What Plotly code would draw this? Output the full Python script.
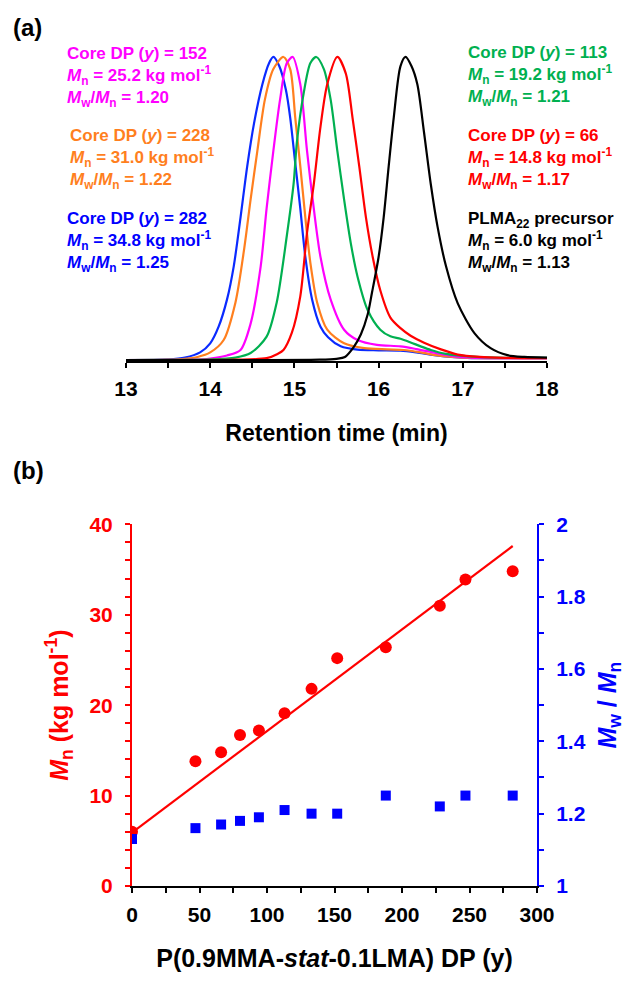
import plotly.graph_objects as go

FONT = "Liberation Sans, Arial, sans-serif"
W, H = 625, 981

# (a) GPC traces: retention time (min) and normalised RI signal
RT_BLUE = [13.0, 13.5, 13.7, 13.88, 14.0, 14.1, 14.2, 14.28, 14.36, 14.44, 14.52, 14.62, 14.7, 14.75,
           14.82, 14.9, 14.95, 15.01, 15.07, 15.13, 15.21, 15.31, 15.4, 15.55, 15.75, 16.0, 16.26,
           16.45, 16.66, 16.9, 17.1, 17.5, 18.0]
SIG_BLUE = [0.0, 0.002, 0.008, 0.025, 0.055, 0.11, 0.2, 0.31, 0.47, 0.64, 0.78, 0.91, 0.98, 1.0,
            0.97, 0.89, 0.8, 0.65, 0.5, 0.34, 0.2, 0.11, 0.075, 0.045, 0.034, 0.032, 0.031,
            0.025, 0.016, 0.009, 0.006, 0.006, 0.006]

RT_ORANGE = [13.0, 13.5, 13.7, 13.85, 14.0, 14.16, 14.3, 14.4, 14.48, 14.56, 14.65, 14.75, 14.87,
             14.95, 15.01, 15.07, 15.13, 15.19, 15.27, 15.39, 15.59, 15.83, 16.1, 16.3, 16.5,
             16.7, 17.0, 17.5, 18.0]
SIG_ORANGE = [0.0, 0.001, 0.004, 0.01, 0.025, 0.066, 0.19, 0.36, 0.53, 0.69, 0.86, 0.96, 1.0,
              0.96, 0.8, 0.64, 0.47, 0.32, 0.19, 0.1, 0.055, 0.039, 0.035, 0.033, 0.025,
              0.015, 0.008, 0.006, 0.006]

RT_MAGENTA = [13.0, 13.8, 14.0, 14.2, 14.36, 14.48, 14.6, 14.67, 14.75, 14.83, 14.91, 14.98, 15.07,
              15.15, 15.23, 15.31, 15.43, 15.59, 15.75, 15.98, 16.26, 16.45, 16.66, 16.9, 17.1,
              17.5, 18.0]
SIG_MAGENTA = [0.0, 0.001, 0.005, 0.015, 0.033, 0.12, 0.31, 0.5, 0.69, 0.86, 0.98, 1.0, 0.91,
               0.69, 0.5, 0.34, 0.2, 0.1, 0.066, 0.05, 0.045, 0.036, 0.024, 0.012, 0.008,
               0.006, 0.006]

RT_GREEN = [13.0, 14.0, 14.3, 14.48, 14.67, 14.79, 14.91, 14.99, 15.03, 15.11, 15.19, 15.26, 15.35,
            15.43, 15.51, 15.59, 15.67, 15.75, 15.87, 16.02, 16.14, 16.26, 16.38, 16.5, 16.62,
            16.8, 17.06, 17.4, 18.0]
SIG_GREEN = [0.0, 0.002, 0.008, 0.023, 0.077, 0.19, 0.41, 0.58, 0.72, 0.88, 0.98, 1.0, 0.96,
             0.86, 0.69, 0.53, 0.385, 0.275, 0.165, 0.1, 0.078, 0.07, 0.058, 0.045, 0.033,
             0.02, 0.012, 0.008, 0.007]

RT_RED = [13.0, 14.3, 14.67, 14.8, 14.87, 14.97, 15.07, 15.15, 15.23, 15.31, 15.39, 15.51, 15.61,
          15.69, 15.77, 15.85, 15.93, 16.02, 16.14, 16.26, 16.38, 16.54, 16.74, 16.94, 17.2,
          17.5, 18.0]
SIG_RED = [0.0, 0.001, 0.006, 0.02, 0.033, 0.09, 0.21, 0.42, 0.58, 0.77, 0.91, 1.0, 0.946,
           0.8, 0.64, 0.47, 0.34, 0.23, 0.14, 0.105, 0.08, 0.057, 0.035, 0.018, 0.01,
           0.007, 0.006]

RT_BLACK = [13.0, 15.3, 15.5, 15.6, 15.71, 15.79, 15.87, 15.92, 16.0, 16.06, 16.12, 16.18, 16.26,
            16.32, 16.39, 16.46, 16.54, 16.62, 16.7, 16.8, 16.94, 17.14, 17.33, 17.53, 17.73, 18.0]
SIG_BLACK = [0.0, 0.001, 0.004, 0.01, 0.045, 0.085, 0.15, 0.22, 0.34, 0.47, 0.64, 0.8, 0.97,
             1.0, 0.97, 0.91, 0.75, 0.58, 0.44, 0.31, 0.187, 0.088, 0.039, 0.016, 0.01, 0.008]

# (b) DP dependence of Mn and dispersity
DP = [0, 47, 66, 80, 94, 113, 133, 152, 188, 228, 247, 282]
MN = [6.0, 13.8, 14.8, 16.7, 17.2, 19.1, 21.8, 25.2, 26.4, 31.0, 33.9, 34.8]
DISPERSITY = [1.13, 1.16, 1.17, 1.18, 1.19, 1.21, 1.20, 1.20, 1.25, 1.22, 1.25, 1.25]
FIT_DP = [0, 282]
FIT_MN = [5.9, 37.6]

# labels for the GPC traces
LABELS = [
    ("Core DP (<i>y</i>) = 152", "25.2", "1.20"),
    ("Core DP (<i>y</i>) = 228", "31.0", "1.22"),
    ("Core DP (<i>y</i>) = 282", "34.8", "1.25"),
    ("Core DP (<i>y</i>) = 113", "19.2", "1.21"),
    ("Core DP (<i>y</i>) = 66", "14.8", "1.17"),
    ("PLMA<sub>22</sub> precursor", "6.0", "1.13"),
]

C_BLUE = "#0a2aff"
C_ORANGE = "#ff7f1e"
C_MAGENTA = "#ff00ff"
C_GREEN = "#00b050"
C_RED = "#ff0000"
C_BLACK = "#000000"


def px_x(x):
    """Pixel position in the picture to paper fraction."""
    return x / W


def px_y(y):
    return 1 - y / H


fig = go.Figure()

traces = [
    (RT_BLUE, SIG_BLUE, C_BLUE),
    (RT_ORANGE, SIG_ORANGE, C_ORANGE),
    (RT_MAGENTA, SIG_MAGENTA, C_MAGENTA),
    (RT_GREEN, SIG_GREEN, C_GREEN),
    (RT_RED, SIG_RED, C_RED),
    (RT_BLACK, SIG_BLACK, C_BLACK),
]
for rt, sig, color in traces:
    fig.add_trace(go.Scatter(x=rt, y=sig, mode="lines",
        line=dict(color=color, width=2.2, shape="spline", smoothing=0.8),
        xaxis="x", yaxis="y", hoverinfo="skip"))

fig.add_trace(go.Scatter(x=FIT_DP, y=FIT_MN, mode="lines",
    line=dict(color=C_RED, width=2.2), xaxis="x2", yaxis="y2"))
fig.add_trace(go.Scatter(x=DP, y=MN, mode="markers",
    marker=dict(color=C_RED, size=12, symbol="circle"), xaxis="x2", yaxis="y2"))
fig.add_trace(go.Scatter(x=DP, y=DISPERSITY, mode="markers",
    marker=dict(color="#0000ff", size=10, symbol="square"), xaxis="x2", yaxis="y3"))

# label blocks: (colour, x px, y px of middle line)
label_pos = [
    (C_MAGENTA, 65, 77),
    (C_ORANGE, 68, 159),
    ("#0000ff", 65, 242),
    (C_GREEN, 466, 76),
    (C_RED, 466, 159),
    (C_BLACK, 466, 242),
]
for (head, mn, disp), (color, x, y) in zip(LABELS, label_pos):
    text = (f"{head}<br><i>M</i><sub>n</sub> = {mn} kg mol<sup>-1</sup>"
            f"<br><i>M</i><sub>w</sub>/<i>M</i><sub>n</sub> = {disp}")
    fig.add_annotation(xref="paper", yref="paper", x=px_x(x), y=px_y(y),
        xanchor="left", yanchor="middle", align="left", text=text, showarrow=False,
        font=dict(size=17, color=color, family=FONT, weight="bold"))

for label, y in [("(a)", 27), ("(b)", 470)]:
    fig.add_annotation(xref="paper", yref="paper", x=px_x(11), y=px_y(y),
        xanchor="left", yanchor="middle", text=label, showarrow=False,
        font=dict(size=24, color="black", family=FONT, weight="bold"))

tick_font = dict(size=21, family=FONT, weight="bold")


def title_font(color, size):
    return dict(size=size, color=color, family=FONT, weight="bold")


def minor(dtick, color):
    return dict(dtick=dtick, ticks="outside", ticklen=5, tickwidth=2, tickcolor=color)


common = dict(showline=True, linewidth=2, showgrid=False, zeroline=False, automargin=False,
              ticks="outside", ticklen=5, tickwidth=2)

fig.update_layout(
    width=W, height=H,
    margin=dict(l=0, r=0, t=0, b=0, autoexpand=False),
    plot_bgcolor="white", paper_bgcolor="white",
    showlegend=False,
    font=dict(family=FONT, color="black"),
    xaxis=dict(domain=[px_x(126), px_x(547)], range=[13, 18], anchor="y",
               linecolor="black", tickcolor="black", dtick=1, tick0=13, ticklabelstandoff=3,
               minor=minor(0.5, "black"), tickfont=dict(color="black", **tick_font),
               title=dict(text="Retention time (min)", font=title_font("black", 23),
                          standoff=26), **common),
    yaxis=dict(domain=[px_y(361), px_y(50)], range=[-0.0033, 1.023], anchor="x",
               visible=False, automargin=False),
    xaxis2=dict(domain=[px_x(132), px_x(537)], range=[0, 300], anchor="y2",
                linecolor="black", tickcolor="black", dtick=50, tick0=0, ticklabelstandoff=4,
                minor=minor(25, "black"), tickfont=dict(color="black", **tick_font),
                title=dict(text="P(0.9MMA-<i>stat</i>-0.1LMA) DP (y)",
                           font=title_font("black", 25), standoff=24), **common),
    yaxis2=dict(domain=[px_y(886), px_y(524.3)], range=[0, 40], anchor="x2",
                linecolor=C_RED, tickcolor=C_RED, dtick=10, tick0=0, ticklabelstandoff=8,
                minor=minor(2, C_RED), tickfont=dict(color=C_RED, **tick_font),
                title=dict(text="<i>M</i><sub>n</sub> (kg mol<sup>-1</sup>)",
                           font=title_font(C_RED, 25), standoff=14), **common),
    yaxis3=dict(range=[1, 2], overlaying="y2", side="right", anchor="x2",
                linecolor="#0000ff", tickcolor="#0000ff", dtick=0.2, tick0=1, ticklabelstandoff=8,
                minor=minor(0.1, "#0000ff"), tickfont=dict(color="#0000ff", **tick_font),
                title=dict(text="<i>M</i><sub>w</sub> / <i>M</i><sub>n</sub>",
                           font=title_font("#0000ff", 25), standoff=18), **common),
)

# drop the browser's default 8 px body margin so the figure fills the window exactly
fig.write_html("out.html", config={"displayModeBar": False},
               post_script="document.body.style.margin='0px';document.body.style.overflow='hidden';")
